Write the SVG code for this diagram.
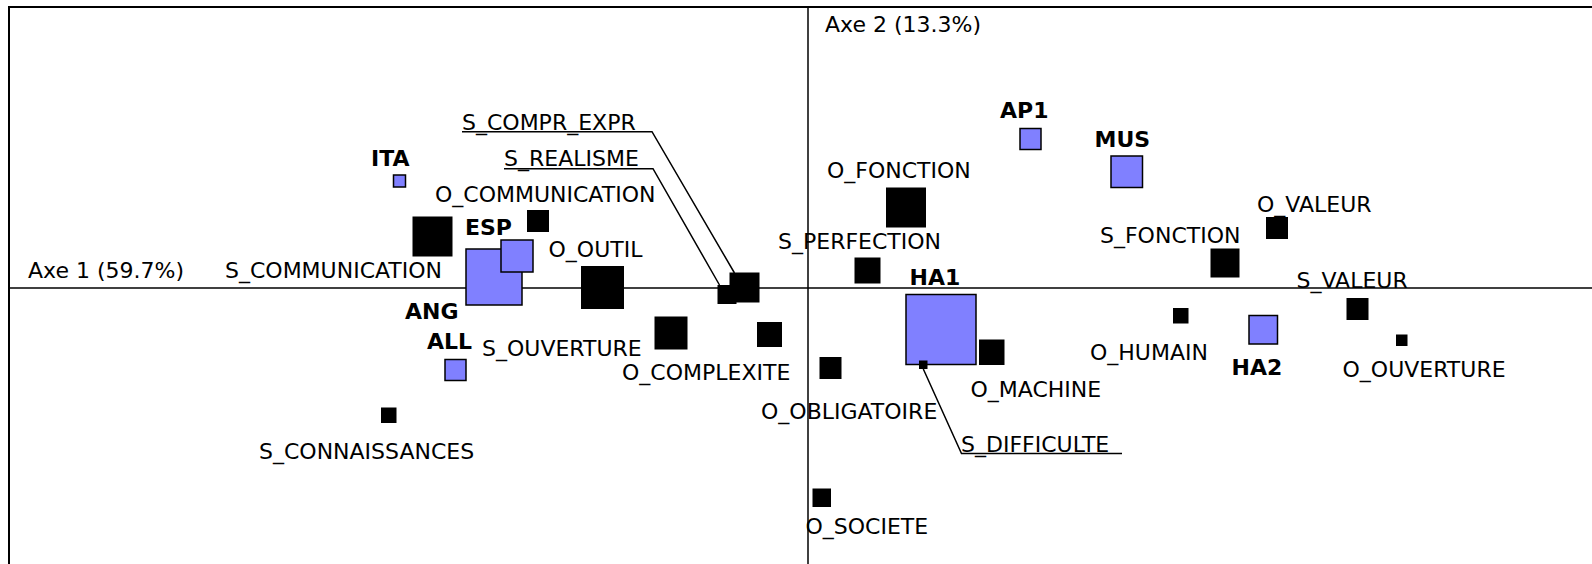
<svg xmlns="http://www.w3.org/2000/svg" width="1592" height="564" viewBox="0 0 1592 564">
<style>
text{font-family:"DejaVu Sans","Liberation Sans",sans-serif;font-size:22px;fill:#000}
.b{font-weight:bold}
.k{fill:#000}
.c{fill:#8080ff;stroke:#000;stroke-width:1.5}
.ax{stroke:#000;stroke-width:1.5;fill:none}
.fr{stroke:#000;stroke-width:2;fill:none}
.ld{stroke:#000;stroke-width:1.5;fill:none}
</style>
<rect width="1592" height="564" fill="#fff"/>
<g id="frame">
<path class="fr" d="M9,564 V7 H1592"/>
</g>
<g id="axes">
<line class="ax" x1="9" y1="288" x2="1592" y2="288"/>
<line class="ax" x1="808" y1="7" x2="808" y2="564"/>
<text x="28" y="277.5">Axe 1 (59.7%)</text>
<text x="825" y="32">Axe 2 (13.3%)</text>
</g>
<g id="connectors">
<polyline class="ld" points="462,131.7 652,131.7 734.5,273"/>
<polyline class="ld" points="504,168.7 653,168.7 719.5,285"/>
<polyline class="ld" points="1122,453.5 961.5,453.5 923.3,369"/>
</g>
<g id="n-S_COMMUNICATION"><rect class="k" x="412.5" y="216.5" width="40" height="40"/><text x="225" y="277.5">S_COMMUNICATION</text></g>
<g id="n-O_COMMUNICATION"><rect class="k" x="527" y="210" width="22" height="22"/><text x="435" y="201.5">O_COMMUNICATION</text></g>
<g id="n-O_OUTIL"><rect class="k" x="581" y="266" width="43" height="43"/><text x="548.5" y="256.5">O_OUTIL</text></g>
<g id="n-S_OUVERTURE"><rect class="k" x="654.5" y="316.5" width="33" height="33"/><text x="482" y="356">S_OUVERTURE</text></g>
<g id="n-O_COMPLEXITE"><rect class="k" x="757" y="322" width="25" height="25"/><text x="622" y="379.5">O_COMPLEXITE</text></g>
<g id="n-S_COMPR_EXPR"><rect class="k" x="729.5" y="272.5" width="30" height="30"/><text x="462" y="129.5">S_COMPR_EXPR</text></g>
<g id="n-S_REALISME"><rect class="k" x="717.5" y="285" width="19" height="19"/><text x="504" y="165.5">S_REALISME</text></g>
<g id="n-S_CONNAISSANCES"><rect class="k" x="381" y="407.5" width="15.5" height="15.5"/><text x="259" y="458.5">S_CONNAISSANCES</text></g>
<g id="n-O_OBLIGATOIRE"><rect class="k" x="819.5" y="357" width="22" height="22"/><text x="761" y="418.5">O_OBLIGATOIRE</text></g>
<g id="n-O_SOCIETE"><rect class="k" x="812.5" y="488.5" width="18.5" height="18.5"/><text x="805.5" y="534">O_SOCIETE</text></g>
<g id="n-S_PERFECTION"><rect class="k" x="854.5" y="257.5" width="26" height="26"/><text x="778" y="248.5">S_PERFECTION</text></g>
<g id="n-O_FONCTION"><rect class="k" x="886" y="187.5" width="40" height="40"/><text x="827" y="178">O_FONCTION</text></g>
<g id="n-O_MACHINE"><rect class="k" x="979" y="339.5" width="25.5" height="25.5"/><text x="970.5" y="396.5">O_MACHINE</text></g>
<g id="n-O_HUMAIN"><rect class="k" x="1173" y="308" width="15.5" height="15.5"/><text x="1090" y="359.5">O_HUMAIN</text></g>
<g id="n-S_FONCTION"><rect class="k" x="1210.5" y="248.5" width="29" height="29"/><text x="1100" y="243">S_FONCTION</text></g>
<g id="n-O_VALEUR"><rect class="k" x="1266" y="217" width="22" height="22"/><text x="1257" y="211.5">O_VALEUR</text></g>
<g id="n-S_VALEUR"><rect class="k" x="1346.5" y="298" width="22" height="22"/><text x="1296.5" y="287.5">S_VALEUR</text></g>
<g id="n-O_OUVERTURE"><rect class="k" x="1396" y="334.5" width="11.5" height="11.5"/><text x="1342.5" y="377">O_OUVERTURE</text></g>
<g id="n-ITA"><rect class="c" x="393.5" y="175" width="12" height="12"/><text class="b" x="371" y="165.5">ITA</text></g>
<g id="n-ANG"><rect class="c" x="466" y="249" width="56" height="56"/><text class="b" x="405" y="318.5">ANG</text></g>
<g id="n-ESP"><rect class="c" x="501" y="240" width="32" height="32"/><text class="b" x="465" y="235">ESP</text></g>
<g id="n-ALL"><rect class="c" x="445" y="359.5" width="21" height="21"/><text class="b" x="427" y="348.5">ALL</text></g>
<g id="n-HA1"><rect class="c" x="906" y="294.5" width="70" height="70"/><text class="b" x="909.5" y="284.5">HA1</text></g>
<g id="n-AP1"><rect class="c" x="1020" y="128.5" width="21" height="21"/><text class="b" x="1000" y="118">AP1</text></g>
<g id="n-MUS"><rect class="c" x="1111" y="156" width="31.5" height="31.5"/><text class="b" x="1094.5" y="147">MUS</text></g>
<g id="n-HA2"><rect class="c" x="1249" y="315.5" width="28.5" height="28.5"/><text class="b" x="1231.5" y="375">HA2</text></g>
<g id="n-S_DIFFICULTE"><rect class="k" x="919" y="360.5" width="8.5" height="8.5"/><text x="961" y="451.5">S_DIFFICULTE</text></g>
</svg>
